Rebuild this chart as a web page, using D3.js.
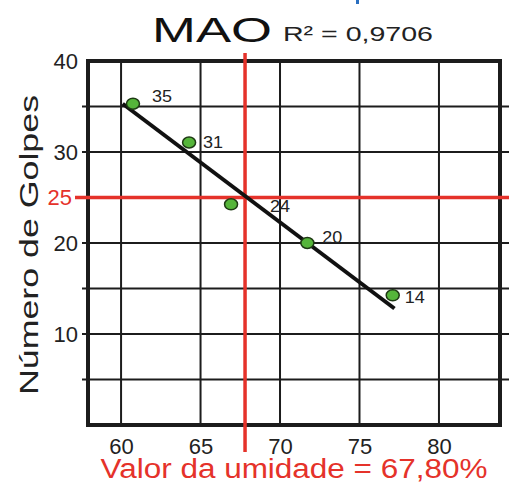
<!DOCTYPE html>
<html>
<head>
<meta charset="utf-8">
<script src="https://cdn.jsdelivr.net/npm/d3@7"></script>
<style>
  body { margin: 0; background: #fff; }
  svg { display: block; font-family: "Liberation Sans", Arial, sans-serif; }
</style>
</head>
<body>
<svg id="chart"></svg>
<script>
// data
let humidity = [60.75, 64.28, 66.92, 71.72, 77.09];
let golpes = [35.3, 31.05, 24.25, 20.0, 14.25];
let pointLabels = ["35", "31", "24", "20", "14"];
let trendX = [60.1, 77.2];
let trendY = [35.3, 12.8];
let xTicks = [60, 65, 70, 75, 80];
let yGrid = [5, 10, 15, 20, 25, 30, 35, 40];
let yLabels = [10, 20, 30, 40];
let markX = 67.8;
let markY = 25;
let r2 = "0,9706";

// label offsets (px) for each point label
let labelDx = [19, 14, 39, 15, 12];
let labelDy = [-8, 0, 2, -6, 2];

let width = 509;
let height = 483;
let plotL = 88, plotR = 500, plotT = 61, plotB = 425;
let red = "#e5322a";
let ink = "#1c1c1c";

let svg = d3.select("#chart").attr("width", width).attr("height", height);

let xScale = d3.scaleLinear().domain([57.92, 83.84]).range([plotL, plotR]);
let yScale = d3.scaleLinear().domain([0, 40]).range([plotB, plotT]);

// tiny blue mark at the top edge
svg.append("rect").attr("x", 356).attr("y", 0).attr("width", 3).attr("height", 4).attr("fill", "#2a6fc0");

// grid
svg.append("g")
  .selectAll("line")
  .data(yGrid.filter((d) => d !== 40 && d !== markY))
  .enter()
  .append("line")
  .attr("x1", plotL - 6)
  .attr("x2", width)
  .attr("y1", (d) => yScale(d))
  .attr("y2", (d) => yScale(d))
  .attr("stroke", ink)
  .attr("stroke-width", 2);

svg.append("g")
  .selectAll("line")
  .data(xTicks)
  .enter()
  .append("line")
  .attr("x1", (d) => xScale(d))
  .attr("x2", (d) => xScale(d))
  .attr("y1", plotT)
  .attr("y2", plotB)
  .attr("stroke", ink)
  .attr("stroke-width", 2);

// y axis labels
let yAxis = d3.axisLeft(yScale)
  .tickValues(yLabels)
  .tickSize(0)
  .tickPadding(10);
let gy = svg.append("g").attr("transform", `translate(${plotL}, 0)`).call(yAxis);
gy.select(".domain").remove();
gy.selectAll("text")
  .attr("font-size", 22)
  .attr("fill", "#222")
  .attr("font-family", "Liberation Sans, Arial, sans-serif");

// x axis labels
let xAxis = d3.axisBottom(xScale)
  .tickValues(xTicks)
  .tickSize(0)
  .tickPadding(13);
let gx = svg.append("g").attr("transform", `translate(0, ${plotB})`).call(xAxis);
gx.select(".domain").remove();
gx.selectAll("text")
  .attr("font-size", 22)
  .attr("fill", "#222")
  .attr("font-family", "Liberation Sans, Arial, sans-serif");

// frame
svg.append("rect")
  .attr("x", plotL)
  .attr("y", plotT)
  .attr("width", plotR - plotL)
  .attr("height", plotB - plotT)
  .attr("fill", "none")
  .attr("stroke", ink)
  .attr("stroke-width", 4);

// red marker lines
svg.append("line")
  .attr("x1", 75).attr("x2", width)
  .attr("y1", yScale(markY)).attr("y2", yScale(markY))
  .attr("stroke", red).attr("stroke-width", 3.5);
svg.append("line")
  .attr("x1", xScale(markX)).attr("x2", xScale(markX))
  .attr("y1", 53).attr("y2", 452)
  .attr("stroke", red).attr("stroke-width", 3.5);
svg.append("text")
  .attr("x", 72)
  .attr("y", yScale(markY))
  .attr("dy", "0.36em")
  .attr("text-anchor", "end")
  .attr("font-size", 22)
  .attr("fill", red)
  .text(markY);

// trend line
svg.append("line")
  .attr("x1", xScale(trendX[0])).attr("y1", yScale(trendY[0]))
  .attr("x2", xScale(trendX[1])).attr("y2", yScale(trendY[1]))
  .attr("stroke", "#111").attr("stroke-width", 4);

// points
svg.append("g")
  .selectAll("ellipse")
  .data(humidity)
  .enter()
  .append("ellipse")
  .attr("cx", (d) => xScale(d))
  .attr("cy", (d, i) => yScale(golpes[i]))
  .attr("rx", 6.5)
  .attr("ry", 5.5)
  .attr("fill", "#55b53a")
  .attr("stroke", "#1e3a14")
  .attr("stroke-width", 1.5);

svg.append("g")
  .selectAll("text")
  .data(pointLabels)
  .enter()
  .append("text")
  .attr("x", (d, i) => xScale(humidity[i]) + labelDx[i])
  .attr("y", (d, i) => yScale(golpes[i]) + labelDy[i])
  .attr("dy", "0.36em")
  .attr("font-size", 16)
  .attr("fill", "#222")
  .attr("textLength", 20)
  .attr("lengthAdjust", "spacingAndGlyphs")
  .text((d) => d);

// title
svg.append("text")
  .attr("x", 152).attr("y", 42)
  .attr("font-size", 35)
  .attr("fill", "#111")
  .attr("textLength", 120)
  .attr("lengthAdjust", "spacingAndGlyphs")
  .text("MAO");
svg.append("text")
  .attr("x", 283).attr("y", 41)
  .attr("font-size", 21)
  .attr("fill", "#222")
  .attr("textLength", 150)
  .attr("lengthAdjust", "spacingAndGlyphs")
  .text("R² = " + r2);

// axis titles
svg.append("text")
  .attr("x", (plotL + plotR) / 2).attr("y", 478)
  .attr("text-anchor", "middle")
  .attr("font-size", 27)
  .attr("fill", red)
  .attr("textLength", 387)
  .attr("lengthAdjust", "spacingAndGlyphs")
  .text("Valor da umidade = 67,80%");

svg.append("text")
  .attr("transform", "translate(38, 245) rotate(-90)")
  .attr("text-anchor", "middle")
  .attr("font-size", 25)
  .attr("fill", "#222")
  .attr("textLength", 300)
  .attr("lengthAdjust", "spacingAndGlyphs")
  .text("Número de Golpes");
</script>
</body>
</html>
